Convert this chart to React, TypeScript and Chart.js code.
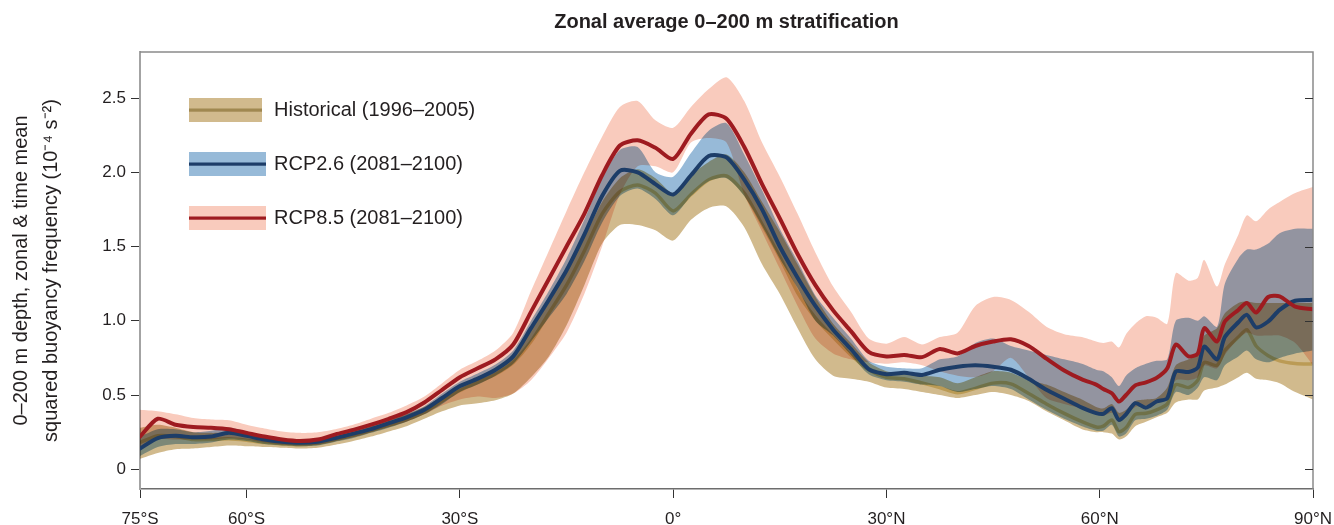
import React, { useEffect, useRef } from 'react';
import { Chart, registerables } from 'chart.js';

Chart.register(...registerables);

// Latitude (degrees, negative = south)
const latitudes = [
  -75, -72.5, -70, -67.5, -65, -62.5, -60, -57.5, -55, -52.5,
  -50, -47.5, -45, -42.5, -40, -37.5, -35, -32.5, -30, -27.5,
  -25, -22.5, -20, -17.5, -15, -12.5, -10, -7.5, -5, -2.5,
  0, 2.5, 5, 7.5, 10, 12.5, 15, 17.5, 20, 22.5,
  25, 27.5, 30, 32.5, 35, 37.5, 40, 42.5, 45, 47.5,
  50, 52.5, 55, 57.5,
  59.5, 60.5, 61.7, 62.7, 63.7, 65, 66.5, 68, 69.5, 70.7, 72.5, 73.8, 74.7, 76.5, 77.6, 79.5, 80.7, 82, 83.7, 85.3, 87.5, 90,
];

// Historical (1996–2005)
const historicalMean = [
  0.18, 0.225, 0.22, 0.2, 0.2, 0.205, 0.195, 0.18, 0.17, 0.165,
  0.175, 0.2, 0.228, 0.26, 0.295, 0.335, 0.385, 0.46, 0.53, 0.585,
  0.64, 0.72, 0.86, 1.05, 1.24, 1.47, 1.72, 1.87, 1.915, 1.86,
  1.74, 1.85, 1.95, 1.975, 1.86, 1.65, 1.43, 1.19, 1.02, 0.89,
  0.77, 0.67, 0.62, 0.61, 0.582, 0.55, 0.515, 0.545, 0.58, 0.575,
  0.51, 0.44, 0.376, 0.32,
  0.285, 0.29, 0.332, 0.253, 0.28, 0.37, 0.377, 0.40, 0.44, 0.57, 0.55, 0.60, 0.72, 0.70, 0.80, 0.89, 0.94, 0.83, 0.765, 0.73, 0.712, 0.708,
];
const historicalLow = [
  0.07, 0.11, 0.135, 0.14, 0.15, 0.16, 0.155, 0.15, 0.145, 0.14,
  0.145, 0.165, 0.19, 0.22, 0.255, 0.29, 0.34, 0.39, 0.43, 0.445,
  0.465, 0.51, 0.62, 0.76, 0.97, 1.24, 1.52, 1.645, 1.645, 1.61,
  1.54, 1.68, 1.76, 1.77, 1.63, 1.38, 1.18, 0.95, 0.74, 0.63,
  0.61, 0.59, 0.55, 0.54, 0.52, 0.5, 0.48, 0.5, 0.52, 0.5,
  0.46, 0.39, 0.33, 0.27,
  0.25, 0.25, 0.24, 0.2, 0.22, 0.29, 0.32, 0.35, 0.38, 0.45, 0.47, 0.47, 0.53, 0.55, 0.57, 0.62, 0.65, 0.61, 0.6, 0.58, 0.52, 0.47,
];
const historicalHigh = [
  0.28, 0.3, 0.28, 0.25, 0.245, 0.245, 0.23, 0.21, 0.2, 0.195,
  0.2, 0.225, 0.255, 0.29, 0.33, 0.37, 0.42, 0.49, 0.56, 0.62,
  0.68, 0.77, 0.94, 1.14, 1.33, 1.56, 1.8, 1.96, 2.02, 1.96,
  1.86, 1.98, 2.07, 2.12, 2.0, 1.8, 1.6, 1.38, 1.16, 0.98,
  0.85, 0.72, 0.66, 0.65, 0.63, 0.62, 0.58, 0.62, 0.66, 0.65,
  0.6, 0.57, 0.52, 0.47,
  0.42, 0.41, 0.44, 0.38, 0.4, 0.46, 0.47, 0.48, 0.55, 0.7, 0.74, 0.78, 0.9, 0.95, 1.05, 1.12, 1.13, 1.12, 1.12, 1.12, 1.12, 1.12,
];

// RCP2.6 (2081–2100)
const rcp26Mean = [
  0.14, 0.21, 0.225, 0.215, 0.22, 0.245, 0.225, 0.2, 0.185, 0.178,
  0.185, 0.21, 0.24, 0.27, 0.31, 0.35, 0.40, 0.48, 0.56, 0.61,
  0.67, 0.76, 0.95, 1.14, 1.34, 1.58, 1.84, 2.01, 2.0, 1.92,
  1.85, 1.98, 2.11, 2.1, 1.95, 1.75, 1.5, 1.29, 1.1, 0.94,
  0.81, 0.675, 0.64, 0.65, 0.635, 0.67, 0.69, 0.7, 0.69, 0.67,
  0.61, 0.535, 0.475, 0.415,
  0.378, 0.373, 0.411, 0.332, 0.37, 0.445, 0.415, 0.456, 0.478, 0.658, 0.655, 0.685, 0.826, 0.74, 0.89, 0.99, 1.04, 0.955, 0.995, 1.073, 1.135, 1.141,
];
const rcp26Low = [
  0.09, 0.15, 0.17, 0.17, 0.18, 0.2, 0.19, 0.17, 0.16, 0.155,
  0.16, 0.185, 0.21, 0.245, 0.28, 0.32, 0.37, 0.44, 0.52, 0.57,
  0.63, 0.71, 0.86, 1.02, 1.18, 1.4, 1.66, 1.84, 1.89, 1.82,
  1.71, 1.84, 1.94, 1.96, 1.84, 1.64, 1.42, 1.22, 1.0, 0.9,
  0.77, 0.64, 0.6, 0.59, 0.57, 0.56, 0.52, 0.54, 0.56, 0.54,
  0.47, 0.4, 0.34, 0.29,
  0.26, 0.26, 0.3, 0.22, 0.24, 0.33, 0.34, 0.36, 0.4, 0.52, 0.5, 0.55, 0.62, 0.6, 0.7, 0.76, 0.8, 0.74, 0.72, 0.75, 0.78, 0.8,
];
const rcp26High = [
  0.22, 0.27, 0.27, 0.25, 0.26, 0.28, 0.255, 0.225, 0.205, 0.2,
  0.205, 0.23, 0.26, 0.295, 0.335, 0.375, 0.425, 0.51, 0.59, 0.645,
  0.705, 0.8, 1.0, 1.2, 1.42, 1.68, 1.96, 2.15, 2.17, 2.0,
  1.97, 2.13, 2.28, 2.33, 2.12, 1.88, 1.62, 1.4, 1.17, 1.02,
  0.88, 0.73, 0.69, 0.68, 0.68, 0.74, 0.76, 0.85, 0.88, 0.83,
  0.8, 0.77, 0.74, 0.71,
  0.67, 0.66, 0.62, 0.56, 0.63, 0.68, 0.71, 0.73, 0.74, 1.0, 1.02, 1.0, 1.03, 0.96, 1.25, 1.42, 1.48, 1.48, 1.52, 1.59, 1.62, 1.62,
];

// RCP8.5 (2081–2100)
const rcp85Mean = [
  0.22, 0.34, 0.30, 0.285, 0.28, 0.27, 0.245, 0.22, 0.2, 0.19,
  0.2, 0.235, 0.265, 0.3, 0.34, 0.385, 0.45, 0.535, 0.62, 0.68,
  0.74, 0.84, 1.06, 1.28, 1.5, 1.72, 1.98, 2.18, 2.215, 2.165,
  2.09, 2.26, 2.39, 2.36, 2.17, 1.92, 1.69, 1.45, 1.24, 1.07,
  0.93, 0.79, 0.76, 0.77, 0.755, 0.81, 0.78, 0.83, 0.86, 0.875,
  0.83, 0.745, 0.665, 0.605,
  0.57, 0.54, 0.512, 0.456, 0.5, 0.565, 0.585, 0.615, 0.68, 0.84, 0.76, 0.78, 0.95, 0.86, 0.995, 1.073, 1.119, 1.055, 1.16, 1.165, 1.095, 1.078,
];
const rcp85Low = [
  0.13, 0.2, 0.2, 0.2, 0.2, 0.21, 0.2, 0.18, 0.165, 0.16,
  0.165, 0.19, 0.215, 0.25, 0.285, 0.32, 0.37, 0.43, 0.47, 0.49,
  0.48, 0.51, 0.6, 0.75, 0.92, 1.18, 1.5, 1.85, 2.04, 2.04,
  2.0, 2.2, 2.23, 2.2, 1.85, 1.6, 1.35, 1.1, 0.88, 0.78,
  0.74, 0.72, 0.71, 0.72, 0.7, 0.66, 0.63, 0.62, 0.66, 0.75,
  0.62, 0.48, 0.44, 0.41,
  0.38, 0.36, 0.38, 0.32, 0.36, 0.42, 0.43, 0.45, 0.49, 0.6, 0.6, 0.62, 0.7, 0.68, 0.77, 0.88, 0.92, 0.9, 0.9, 0.9, 0.85, 0.7,
];
const rcp85High = [
  0.40, 0.39, 0.37, 0.345, 0.335, 0.33, 0.30, 0.275, 0.255, 0.245,
  0.25, 0.27, 0.3, 0.34, 0.38, 0.43, 0.49, 0.58, 0.67, 0.73,
  0.80, 0.92, 1.2, 1.47, 1.74, 2.0, 2.24, 2.44, 2.48, 2.35,
  2.3, 2.44, 2.56, 2.64, 2.48, 2.2, 1.97, 1.72, 1.46, 1.23,
  1.06, 0.88, 0.845, 0.89, 0.84, 0.89, 0.92, 1.1, 1.16, 1.14,
  1.06, 0.96, 0.91, 0.89,
  0.86, 0.85, 0.86, 0.82, 0.91, 0.98, 1.03, 1.02, 0.98, 1.32, 1.27, 1.29, 1.41, 1.23, 1.38, 1.58, 1.71, 1.67, 1.75, 1.8, 1.86, 1.9,
];

const xTickValues = [-75, -60, -30, 0, 30, 60, 90];
const xTickLabels = ['75°S', '60°S', '30°S', '0°', '30°N', '60°N', '90°N'];
const yTickValues = [0, 0.5, 1, 1.5, 2, 2.5];
const yTickLabels = ['0', '0.5', '1.0', '1.5', '2.0', '2.5'];
const legendLabels = ['Historical (1996–2005)', 'RCP2.6 (2081–2100)', 'RCP8.5 (2081–2100)'];
const titleText = 'Zonal average 0–200 m stratification';
const yTitle = ['0–200 m depth, zonal & time mean', 'squared buoyancy frequency (10⁻⁴ s⁻²)'];

const FONT = "'Liberation Sans', Arial, Helvetica, sans-serif";
const TEXT = '#231f20';

const colors = {
  histBand: '#d1ba8d',
  histLine: '#e4d49a',
  histLegendLine: '#a08850',
  r26Band: '#97bad8',
  r26Line: '#1d3d68',
  r85Band: '#f9cbbd',
  r85Line: '#9e1b20',
};

const pts = (vals: number[]) => latitudes.map((x, i) => ({ x, y: vals[i] }));

const blendPlugin = {
  id: 'blend',
  beforeDatasetsDraw(chart: any) {
    chart.ctx.globalCompositeOperation = 'multiply';
  },
  beforeDatasetDraw(chart: any, args: any) {
    const ds: any = chart.data.datasets[args.index];
    chart.ctx.globalCompositeOperation = ds.opaque ? 'source-over' : 'multiply';
  },
  afterDatasetDraw(chart: any) {
    chart.ctx.globalCompositeOperation = 'multiply';
  },
  afterDatasetsDraw(chart: any) {
    chart.ctx.globalCompositeOperation = 'source-over';
  },
};

const framePlugin = {
  id: 'frame',
  afterDraw(chart: any) {
    const { ctx, chartArea } = chart;
    const y = chart.scales.y;
    ctx.save();
    ctx.globalCompositeOperation = 'source-over';
    ctx.strokeStyle = '#8a8a8a';
    ctx.lineWidth = 1.5;
    ctx.beginPath();
    ctx.moveTo(chartArea.left, chartArea.top);
    ctx.lineTo(chartArea.right, chartArea.top);
    ctx.lineTo(chartArea.right, chartArea.bottom);
    ctx.stroke();
    ctx.strokeStyle = '#333';
    ctx.lineWidth = 1;
    for (const v of yTickValues) {
      const py = Math.round(y.getPixelForValue(v)) + 0.5;
      ctx.beginPath();
      ctx.moveTo(chartArea.right - 8, py);
      ctx.lineTo(chartArea.right, py);
      ctx.stroke();
    }
    ctx.restore();
  },
};

const legendPlugin = {
  id: 'customLegend',
  afterDraw(chart: any) {
    const ctx = chart.ctx;
    const rows = [
      { band: colors.histBand, line: colors.histLegendLine, top: 98, w: 73 },
      { band: colors.r26Band, line: colors.r26Line, top: 152, w: 77 },
      { band: colors.r85Band, line: colors.r85Line, top: 206, w: 77 },
    ];
    ctx.save();
    ctx.globalCompositeOperation = 'source-over';
    rows.forEach((r, i) => {
      ctx.fillStyle = r.band;
      ctx.fillRect(189, r.top, r.w, 24);
      ctx.fillStyle = r.line;
      ctx.fillRect(189, r.top + 10.5, r.w, 3.2);
      ctx.fillStyle = TEXT;
      ctx.font = `20px ${FONT}`;
      ctx.textBaseline = 'middle';
      ctx.textAlign = 'left';
      ctx.fillText(legendLabels[i], 274, r.top + 12.5);
    });
    ctx.restore();
  },
};

export default function App() {
  const ref = useRef<HTMLCanvasElement | null>(null);

  useEffect(() => {
    if (!ref.current) return;
    Chart.defaults.font.family = FONT;
    const band = (data: number[], fillTo: number | false, color: string) => ({
      data: pts(data),
      borderWidth: 0,
      borderColor: 'rgba(0,0,0,0)',
      backgroundColor: color,
      pointRadius: 0,
      fill: fillTo === false ? false : { target: fillTo },
      tension: 0.25,
    });
    const datasets: any[] = [
      { label: 'RCP8.5', data: pts(rcp85Mean), borderColor: colors.r85Line, borderWidth: 4, pointRadius: 0, fill: false, tension: 0.25, opaque: true, borderJoinStyle: 'round', borderCapStyle: 'round' },
      { label: 'RCP2.6', data: pts(rcp26Mean), borderColor: colors.r26Line, borderWidth: 4, pointRadius: 0, fill: false, tension: 0.25, opaque: true, borderJoinStyle: 'round', borderCapStyle: 'round' },
      { label: 'Historical', data: pts(historicalMean), borderColor: colors.histLine, borderWidth: 3.5, pointRadius: 0, fill: false, tension: 0.25, borderJoinStyle: 'round' },
      band(historicalLow, false, colors.histBand),
      band(historicalHigh, 3, colors.histBand),
      band(rcp26Low, false, colors.r26Band),
      band(rcp26High, 5, colors.r26Band),
      band(rcp85Low, false, colors.r85Band),
      band(rcp85High, 7, colors.r85Band),
    ];

    const chart = new Chart(ref.current, {
      type: 'line',
      data: { datasets },
      options: {
        responsive: false,
        animation: false,
        events: [],
        layout: { padding: { left: 0, right: 21, top: 0, bottom: 0 } },
        plugins: {
          legend: { display: false },
          tooltip: { enabled: false },
          title: {
            display: true,
            text: titleText,
            fullSize: false,
            color: TEXT,
            font: { size: 20, weight: 'bold', family: FONT, lineHeight: 1.2 },
            padding: { top: 10, bottom: 18 },
          },
        },
        scales: {
          x: {
            type: 'linear',
            min: -75,
            max: 90,
            afterBuildTicks: (s: any) => { s.ticks = xTickValues.map((v) => ({ value: v })); },
            afterFit: (s: any) => { s.height = 36; s.paddingLeft = 0; s.paddingRight = 0; },
            ticks: {
              autoSkip: false,
              maxRotation: 0,
              color: TEXT,
              font: { size: 17, family: FONT },
              padding: 11,
              callback: (v: any) => xTickLabels[xTickValues.indexOf(Number(v))] ?? '',
            },
            grid: { drawOnChartArea: false, drawTicks: true, tickLength: 9, tickColor: '#333', tickWidth: 1 },
            border: { display: true, color: '#6d6d6d', width: 1.5 },
          },
          y: {
            type: 'linear',
            min: -0.133,
            max: 2.81,
            afterBuildTicks: (s: any) => { s.ticks = yTickValues.map((v) => ({ value: v })); },
            afterFit: (s: any) => { s.width = 140; },
            ticks: {
              color: TEXT,
              font: { size: 17, family: FONT },
              padding: 5,
              callback: (v: any) => yTickLabels[yTickValues.indexOf(Number(v))] ?? '',
            },
            grid: { drawOnChartArea: false, drawTicks: true, tickLength: 9, tickColor: '#333', tickWidth: 1 },
            border: { display: true, color: '#a3a3a3', width: 2 },
            title: {
              display: true,
              text: yTitle,
              color: TEXT,
              font: { size: 20, family: FONT, lineHeight: 1.5 },
              padding: { top: 6, bottom: 0 },
            },
          },
        },
      } as any,
      plugins: [blendPlugin, framePlugin, legendPlugin],
    });
    return () => chart.destroy();
  }, []);

  return (
    <div style={{ position: 'absolute', left: 0, top: 0, width: 1334, height: 525, background: '#fff' }}>
      <canvas ref={ref} width={1334} height={525} style={{ display: 'block' }} />
    </div>
  );
}
